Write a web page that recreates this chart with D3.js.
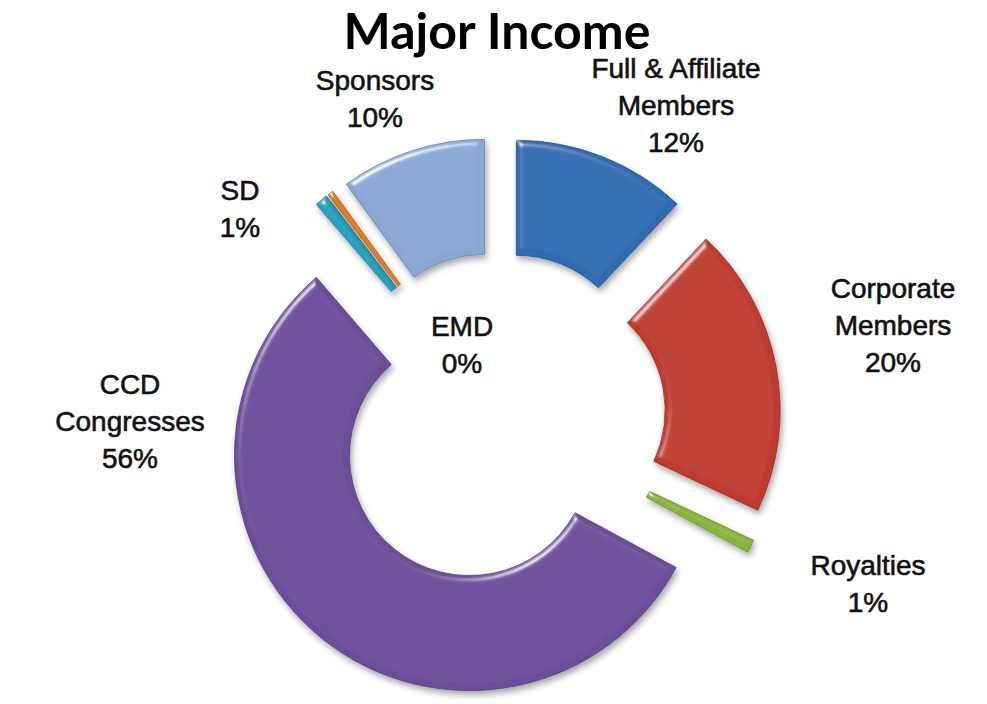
<!DOCTYPE html>
<html lang="en">
<head>
  <meta charset="UTF-8">
  <title>Major Income</title>
  <script src="https://d3js.org/d3.v7.min.js"></script>
  <style>
    body { margin: 0; background: #fff; }
    .title { font-family: Lato, "Open Sans", sans-serif; font-weight: bold; font-size: 50px; }
    .lbl { font-family: "Liberation Sans", Arial, sans-serif; font-size: 28px; fill: #111; stroke: #111; stroke-width: 0.6px; }
  </style>
</head>
<body>
  <div id="chart"></div>

  <script>
    // data, clockwise from 12 o'clock
    const categories = ["Full & Affiliate Members", "Corporate Members", "Royalties", "CCD Congresses", "SD", "EMD", "Sponsors"];
    const values = [12, 20, 0.9, 55.8, 0.9, 0.4, 10];
    const colors = ["#2e6cb2", "#be3a2e", "#89b53a", "#6c4e9a", "#28a2c0", "#e07a1c", "#8aa7d4"];

    // label layout (centre of first line, in px)
    const labelPos = {
      "Full & Affiliate Members": [676, 68, ["Full & Affiliate", "Members"]],
      "Corporate Members": [893, 288, ["Corporate", "Members"]],
      "Royalties": [868, 565, ["Royalties"]],
      "CCD Congresses": [130, 384, ["CCD", "Congresses"]],
      "SD": [240, 190, ["SD"]],
      "EMD": [462, 326, ["EMD"]],
      "Sponsors": [375, 80, ["Sponsors"]]
    };

    const W = 987, H = 704;
    const cx = 499, cy = 419, outerR = 235, innerR = 120, explode = 47;

    const svg = d3.select("#chart").append("svg")
      .attr("width", W).attr("height", H);

    const defs = svg.append("defs");
    const f = defs.append("filter").attr("id", "bevel")
      .attr("x", "-20%").attr("y", "-20%").attr("width", "140%").attr("height", "140%");
    f.append("feGaussianBlur").attr("in", "SourceAlpha").attr("stdDeviation", 3).attr("result", "blur");
    f.append("feSpecularLighting").attr("in", "blur").attr("surfaceScale", 4)
      .attr("specularConstant", 0.7).attr("specularExponent", 40)
      .attr("lighting-color", "#ffffff").attr("result", "spec")
      .append("feDistantLight").attr("azimuth", 235).attr("elevation", 40);
    f.append("feComposite").attr("in", "spec").attr("in2", "SourceAlpha").attr("operator", "in").attr("result", "specIn");
    f.append("feComposite").attr("in", "SourceGraphic").attr("in2", "specIn")
      .attr("operator", "arithmetic").attr("k1", 0).attr("k2", 1).attr("k3", 1).attr("k4", 0).attr("result", "lit");
    f.append("feGaussianBlur").attr("in", "SourceAlpha").attr("stdDeviation", 3).attr("result", "sh");
    f.append("feOffset").attr("in", "sh").attr("dx", 2).attr("dy", 4).attr("result", "sho");
    f.append("feComponentTransfer").attr("in", "sho").attr("result", "shf")
      .append("feFuncA").attr("type", "linear").attr("slope", 0.35);
    const m = f.append("feMerge");
    m.append("feMergeNode").attr("in", "shf");
    m.append("feMergeNode").attr("in", "lit");

    const data = categories.map((c, i) => ({ name: c, value: values[i], color: colors[i] }));
    const total = d3.sum(values);

    const pie = d3.pie().sort(null).value(d => d.value).startAngle(0).endAngle(2 * Math.PI);
    const arc = d3.arc().innerRadius(innerR).outerRadius(outerR);

    const g = svg.append("g").attr("transform", `translate(${cx},${cy})`);

    g.selectAll("path.slice")
      .data(pie(data))
      .enter().append("path")
      .attr("class", "slice")
      .attr("d", arc)
      .attr("fill", d => d.data.color)
      .attr("stroke", d => d3.color(d.data.color).darker(0.7))
      .attr("stroke-width", 0.8)
      .attr("filter", "url(#bevel)")
      .attr("transform", d => {
        const a = (d.startAngle + d.endAngle) / 2;
        return `translate(${explode * Math.sin(a)},${-explode * Math.cos(a)})`;
      });

    svg.append("text").attr("class", "title")
      .attr("x", 497).attr("y", 49).attr("text-anchor", "middle")
      .text("Major Income");

    const lineH = 37;
    data.forEach(d => {
      const [x, y, lines] = labelPos[d.name];
      const pct = Math.round(d.value / total * 100) + "%";
      const t = svg.append("text").attr("class", "lbl").attr("text-anchor", "middle")
        .attr("x", x).attr("y", y + 10);
      lines.concat([pct]).forEach((s, i) => {
        t.append("tspan").attr("x", x).attr("dy", i === 0 ? 0 : lineH).text(s);
      });
    });
  </script>
</body>
</html>
